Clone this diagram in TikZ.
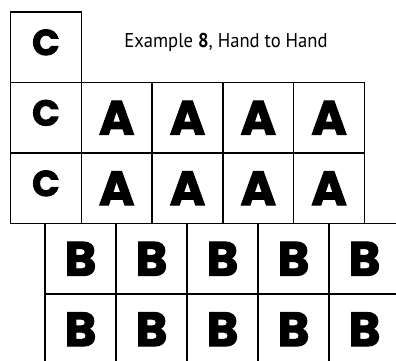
\documentclass[tikz,border=0pt]{standalone}
\usepackage{fontspec}
\setmainfont{PT Sans}
\newfontfamily\blockfont{Poppins}[BoldFeatures={FakeBold=2.5}]
\usetikzlibrary{positioning}

\begin{document}
\begin{tikzpicture}[
        x=1pt, y=-1pt,
        cell/.style={
            draw=black,
            line width=1.3pt,
            minimum width=70.8pt,
            minimum height=70.5pt,
            inner sep=0pt,
            outer sep=0pt,
            font=\blockfont\bfseries\fontsize{48}{48}\selectfont
        },
        smallcell/.style={
            cell,
            text depth=10pt,
            font=\blockfont\bfseries\fontsize{36}{36}\selectfont
        },
        titletext/.style={
            font=\fontsize{20}{20}\selectfont,
            xscale=0.93,
            anchor=base
        }
    ]
    \useasboundingbox (0,0) rectangle (396,360);

    % top corner box and heading
    \node[smallcell] (c0) at (45.9,47.25) {C};
    \node[titletext] (title) at (226,47) {Example \textbf{8}, Hand to Hand};

    % C and A rows
    \foreach \r/\yy in {1/117.75, 2/188.25} {
        \node[smallcell] (c\r) at (45.9,\yy) {C};
        \foreach \c/\xx in {1/116.7, 2/187.5, 3/258.3, 4/329.1}
            \node[cell] (a\r\c) at (\xx,\yy) {A};
    }

    % B rows
    \foreach \r/\yy in {1/258.75, 2/329.25}
        \foreach \c/\xx in {1/80.5, 2/151.5, 3/222.5, 4/293.5, 5/364.5}
            \node[cell, minimum width=71pt] (b\r\c) at (\xx,\yy) {B};
\end{tikzpicture}
\end{document}
